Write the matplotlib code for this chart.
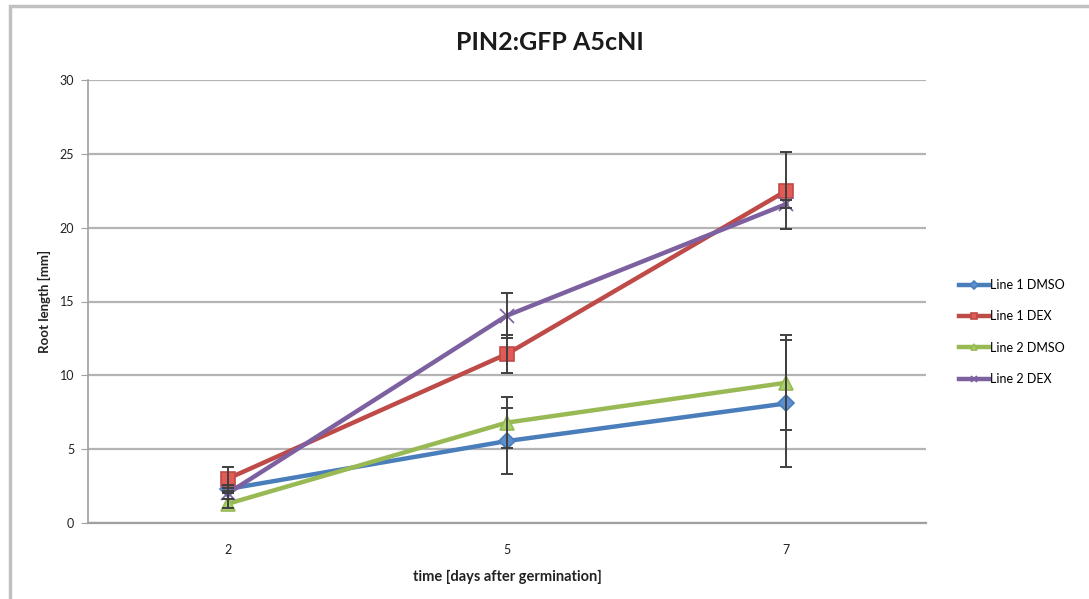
import matplotlib
matplotlib.use('agg')
import matplotlib.pyplot as plt
from matplotlib.patches import Rectangle

# data
days = ['2', '5', '7']
series_names = ['Line 1 DMSO', 'Line 1 DEX', 'Line 2 DMSO', 'Line 2 DEX']
line1_dmso = [2.3, 5.55, 8.1]
line1_dmso_err = [0.3, 2.25, 4.3]
line1_dex = [3.0, 11.45, 22.5]
line1_dex_err = [0.8, 1.3, 2.6]
line2_dmso = [1.3, 6.8, 9.5]
line2_dmso_err = [0.3, 1.75, 3.2]
line2_dex = [2.0, 14.05, 21.6]
line2_dex_err = [0.4, 1.5, 0.3]

plt.rcParams['font.family'] = ['Lato', 'DejaVu Sans']

fig = plt.figure(figsize=(10.89, 5.99), dpi=100)
# grey frame around the chart
fig.patches.append(Rectangle((10 / 1089, -0.05), 1.2, 1 - 6 / 599 + 0.05,
                             transform=fig.transFigure, fill=False,
                             edgecolor='#c0c0c0', linewidth=2.5))

ax = fig.add_axes([88 / 1089, 76 / 599, 838 / 1089, 443 / 599])

x = list(range(len(days)))
styles = [
    (line1_dmso, line1_dmso_err, '#4a7ebb', 'D', '#5b8fd0', 8),
    (line1_dex, line1_dex_err, '#be4b48', 's', '#e35b57', 10),
    (line2_dmso, line2_dmso_err, '#98b954', '^', '#a9d16a', 10),
    (line2_dex, line2_dex_err, '#7d60a0', 'x', '#7d60a0', 10),
]
for i, (vals, errs, col, mk, fc, ms) in enumerate(styles):
    ax.plot(x, vals, color=col, linewidth=3.2, marker=mk, markersize=ms,
            markerfacecolor=fc, markeredgecolor=col, markeredgewidth=1.2,
            label=series_names[i], zorder=3 + i)
    ax.errorbar(x, vals, yerr=errs, fmt='none', ecolor='#404040',
                elinewidth=1.4, capsize=4, capthick=1.4, zorder=8)

ax.set_xlim(-0.5, 2.5)
ax.set_ylim(0, 30)
ax.set_yticks([0, 5, 10, 15, 20, 25, 30])
ax.set_xticks(x)
ax.set_xticklabels(days)
ax.yaxis.grid(True, color='#b4b4b4', linewidth=1.6)
ax.set_axisbelow(True)
for s in ['top', 'right']:
    ax.spines[s].set_visible(False)
ax.spines['left'].set_color('#a0a0a0')
ax.spines['bottom'].set_color('#a0a0a0')
ax.spines['left'].set_linewidth(1.2)
ax.spines['bottom'].set_linewidth(1.6)
ax.tick_params(axis='y', length=5, color='#a0a0a0', labelsize=9, pad=5, labelcolor='#222222')
ax.tick_params(axis='x', length=0, labelsize=9, pad=15, labelcolor='#222222')

fig.text(550 / 1089, 1 - 43 / 599, 'PIN2:GFP A5cNI', fontsize=18, fontweight='bold',
         color='#1a1a1a', ha='center', va='center')
ax.set_ylabel('Root length [mm]', fontsize=9.5, fontweight='bold', labelpad=6, color='#222222')
ax.set_xlabel('time [days after germination]', fontsize=10.5, fontweight='bold', labelpad=10, color='#222222')

fig.legend(loc='center left', bbox_to_anchor=(948 / 1089, 1 - 332 / 599),
           frameon=False, fontsize=9, markerscale=0.5, handlelength=2.4,
           handletextpad=0.1, labelspacing=1.55)

plt.savefig('out.png', dpi=100)
